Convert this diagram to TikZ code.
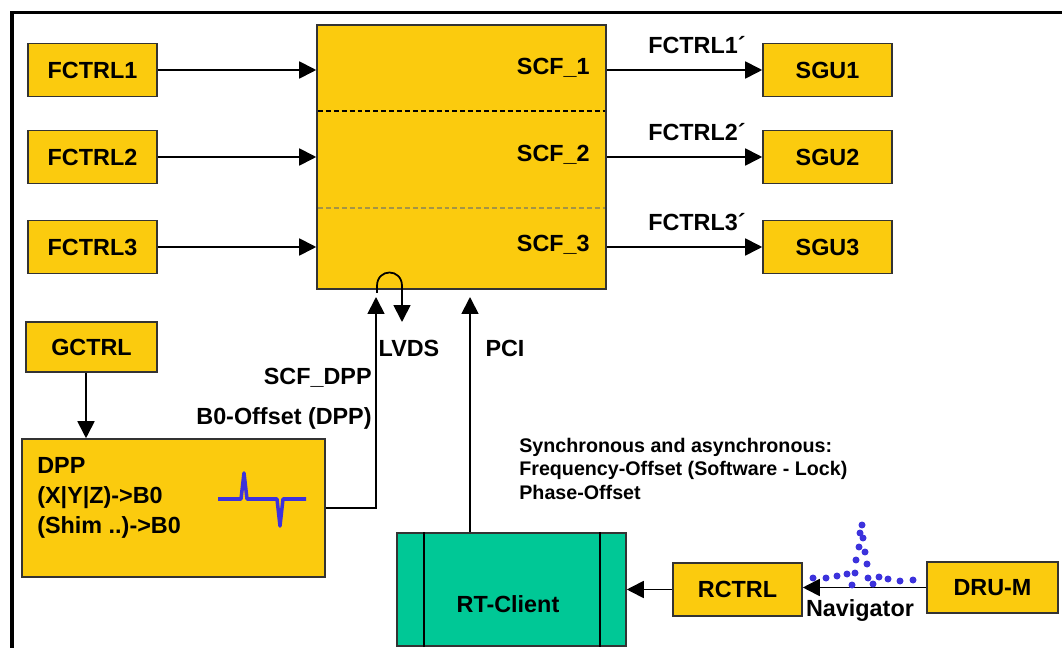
\documentclass[tikz,border=0pt]{standalone}
\usepackage{fontspec}
\setmainfont{Liberation Sans}
\usetikzlibrary{arrows.meta}
\definecolor{boxyellow}{RGB}{251,203,14}
\definecolor{rtgreen}{RGB}{0,200,150}
\definecolor{peakblue}{RGB}{60,50,220}
\definecolor{olivedash}{RGB}{165,148,70}

\begin{document}
\begin{tikzpicture}[x=0.02cm,y=-0.02cm,
	>={Triangle[length=0.34cm,width=0.34cm]},
	box/.style={draw=black!80, line width=0.9pt, fill=boxyellow, minimum width=2.58cm,
		minimum height=1.06cm, inner sep=0pt, font=\fontsize{13.3}{15}\selectfont\bfseries},
	lbl/.style={font=\fontsize{13.3}{15}\selectfont\bfseries, inner sep=0pt},
	small/.style={font=\fontsize{11.2}{13.3}\selectfont\bfseries, inner sep=0pt, align=left},
	conn/.style={line width=1pt, ->},
	sep/.style={line width=0.8pt, dash pattern=on 2.8pt off 1.7pt}]
\useasboundingbox (0,0) rectangle (1062,648);
% frame
	\draw[line width=2pt] (12,648) -- (12,12.5) -- (1062,12.5);
% SCF block
	\node[box, minimum width=5.78cm, minimum height=5.28cm] (scf) at (461.5,157) {};
	\draw[sep] (318,111) -- (605,111);
	\draw[sep, olivedash] (318,208) -- (605,208);
% three channels
	\foreach \i/\y in {1/70,2/157,3/247}{
		\node[box] (fc\i) at (92.5,\y) {FCTRL\i};
		\node[box] (sgu\i) at (827.5,\y) {SGU\i};
		\node[lbl, anchor=east] (scf\i) at (590,\y-2) {SCF\_\i};
		\draw[conn] (fc\i.east) -- (fc\i.east -| scf.west);
		\draw[conn] (sgu\i.west -| scf.east) -- node[lbl, pos=0.58, above=0.3cm] (fcp\i) {FCTRL\i´} (sgu\i.west);
	}
% GCTRL and DPP
	\node[box, minimum width=2.62cm, minimum height=1.0cm] (gctrl) at (91.5,347) {GCTRL};
	\node[box, minimum width=6.06cm, minimum height=2.76cm] (dpp) at (173.5,508) {};
	\node[lbl, anchor=west, align=left, font=\fontsize{13.3}{17}\selectfont\bfseries] (dpptxt) at (37,498) {DPP\\(X|Y|Z)->B0\\(Shim ..)->B0};
	\draw[conn] ([xshift=-0.11cm]gctrl.south) -- ([xshift=-0.11cm]gctrl.south |- dpp.north);
	% B0 shape
	\draw[peakblue, line width=2pt, line join=round] (218,499) -- (241,499) -- (244,473) -- (247,499)
		-- (277,499) -- (280,526) -- (283,499) -- (306,499);
% DPP -> SCF and LVDS
	\coordinate (dppin) at (376,297);
	\coordinate (lvdsup) at (377,293);
	\coordinate (lvdsout) at (402,322);
	\draw[conn] (dpp.east) -| (dppin);
	\draw[conn] (lvdsup) -- (377,286) .. controls (377,268) and (402,268) .. (402,286) -- (lvdsout);
	\node[lbl, anchor=east] (scfdpp) at (372,378) {SCF\_DPP};
	\node[lbl, anchor=east] (b0off) at (372,418) {B0-Offset (DPP)};
	\node[lbl] (lvds) at (409,348) {LVDS};
	\node[lbl] (pci) at (505,348) {PCI};
% RT-Client
	\node[draw=black!80, line width=0.9pt, fill=rtgreen, minimum width=4.58cm, minimum height=2.26cm] (rt) at (511.5,589.5) {};
	\draw[line width=0.9pt] ([xshift=0.56cm]rt.north west) -- ([xshift=0.56cm]rt.south west);
	\draw[line width=0.9pt] ([xshift=-0.54cm]rt.north east) -- ([xshift=-0.54cm]rt.south east);
	\node[lbl] (rttxt) at (508,604) {RT-Client};
	\coordinate (pciin) at (470,297);
	\draw[conn] (pciin |- rt.north) -- (pciin);
	\node[small, anchor=north west] (synctxt) at (519,438) {Synchronous and asynchronous:\\Frequency-Offset (Software - Lock)\\Phase-Offset};
% RCTRL and DRU-M
	\node[box] (rctrl) at (737.5,589.5) {RCTRL};
	\node[box, minimum width=2.62cm, minimum height=1.02cm] (dru) at (992.5,587.5) {DRU-M};
	\draw[conn] (rctrl.west) -- (rctrl.west -| rt.east);
	\draw[conn] (dru.west) -- (dru.west -| rctrl.east);
	\node[lbl] (nav) at (860,611) {Navigator};
	% navigator peak
	\foreach \dx/\dy in {813/578, 826/578, 837/576, 847/574, 855/573, 852/585, 856/560, 859/547,
		860/533, 862/525, 863/538, 865/552, 867/564, 868/578, 873/584, 879/577, 888/579, 900/581, 913/580}
		\fill[peakblue] (\dx,\dy) circle (0.07cm);
\end{tikzpicture}
\end{document}
